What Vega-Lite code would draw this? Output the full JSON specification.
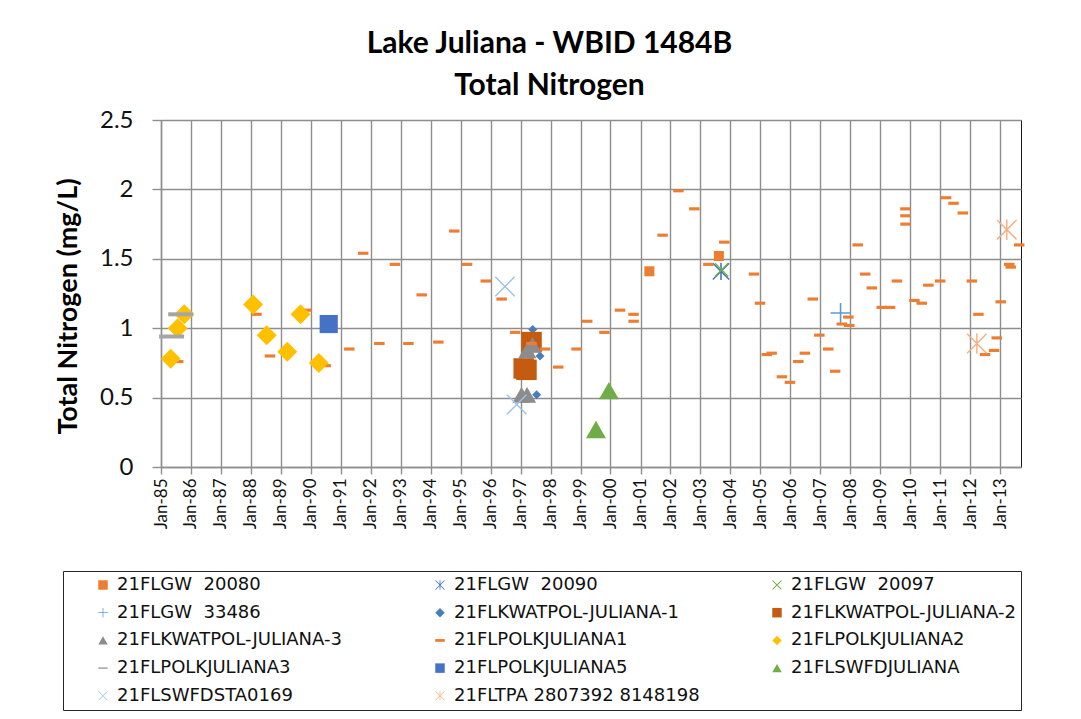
{
  "$schema": "https://vega.github.io/schema/vega-lite/v6.json",
  "width": 860,
  "height": 347,
  "autosize": {"type": "none"},
  "padding": {"left": 161, "top": 120, "right": 60, "bottom": 252},
  "background": "white",
  "title": {
    "text": ["Lake Juliana - WBID 1484B", "Total Nitrogen"],
    "font": "Lato",
    "fontSize": 30,
    "fontWeight": "bold",
    "color": "#000000",
    "anchor": "middle",
    "frame": "bounds",
    "lineHeight": 42,
    "offset": 7,
    "dx": 10
  },
  "data": {
    "values": [
      {"s": "21FLGW\u00a0 20080", "d": "2001-04-19", "v": 1.41},
      {"s": "21FLGW\u00a0 20080", "d": "2003-08-14", "v": 1.52},
      {"s": "21FLGW\u00a0 20090", "d": "2003-09-09", "v": 1.41},
      {"s": "21FLGW\u00a0 20097", "d": "2003-09-16", "v": 1.42},
      {"s": "21FLGW\u00a0 33486", "d": "2007-09-05", "v": 1.11},
      {"s": "21FLKWATPOL-JULIANA-1", "d": "1997-05-28", "v": 0.99},
      {"s": "21FLKWATPOL-JULIANA-1", "d": "1997-07-15", "v": 0.52},
      {"s": "21FLKWATPOL-JULIANA-1", "d": "1997-08-25", "v": 0.80},
      {"s": "21FLKWATPOL-JULIANA-2", "d": "1997-05-14", "v": 0.90},
      {"s": "21FLKWATPOL-JULIANA-2", "d": "1997-02-07", "v": 0.71},
      {"s": "21FLKWATPOL-JULIANA-2", "d": "1997-03-13", "v": 0.70},
      {"s": "21FLKWATPOL-JULIANA-3", "d": "1997-01-12", "v": 0.52},
      {"s": "21FLKWATPOL-JULIANA-3", "d": "1997-03-20", "v": 0.52},
      {"s": "21FLKWATPOL-JULIANA-3", "d": "1997-03-24", "v": 0.84},
      {"s": "21FLKWATPOL-JULIANA-3", "d": "1997-05-25", "v": 0.88},
      {"s": "21FLPOLKJULIANA1", "d": "1985-07-29", "v": 0.76},
      {"s": "21FLPOLKJULIANA1", "d": "1988-03-09", "v": 1.10},
      {"s": "21FLPOLKJULIANA1", "d": "1988-08-21", "v": 0.80},
      {"s": "21FLPOLKJULIANA1", "d": "1989-11-10", "v": 1.13},
      {"s": "21FLPOLKJULIANA1", "d": "1990-07-01", "v": 0.73},
      {"s": "21FLPOLKJULIANA1", "d": "1991-04-15", "v": 0.85},
      {"s": "21FLPOLKJULIANA1", "d": "1991-10-01", "v": 1.54},
      {"s": "21FLPOLKJULIANA1", "d": "1992-04-15", "v": 0.89},
      {"s": "21FLPOLKJULIANA1", "d": "1992-10-22", "v": 1.46},
      {"s": "21FLPOLKJULIANA1", "d": "1993-04-04", "v": 0.89},
      {"s": "21FLPOLKJULIANA1", "d": "1993-09-13", "v": 1.24},
      {"s": "21FLPOLKJULIANA1", "d": "1994-04-04", "v": 0.90},
      {"s": "21FLPOLKJULIANA1", "d": "1994-10-15", "v": 1.70},
      {"s": "21FLPOLKJULIANA1", "d": "1995-03-20", "v": 1.46},
      {"s": "21FLPOLKJULIANA1", "d": "1995-11-03", "v": 1.34},
      {"s": "21FLPOLKJULIANA1", "d": "1996-05-14", "v": 1.21},
      {"s": "21FLPOLKJULIANA1", "d": "1996-10-26", "v": 0.97},
      {"s": "21FLPOLKJULIANA1", "d": "1997-05-14", "v": 0.89},
      {"s": "21FLPOLKJULIANA1", "d": "1997-10-26", "v": 0.85},
      {"s": "21FLPOLKJULIANA1", "d": "1998-04-04", "v": 0.72},
      {"s": "21FLPOLKJULIANA1", "d": "1998-11-14", "v": 0.85},
      {"s": "21FLPOLKJULIANA1", "d": "1999-03-23", "v": 1.05},
      {"s": "21FLPOLKJULIANA1", "d": "1999-10-19", "v": 0.97},
      {"s": "21FLPOLKJULIANA1", "d": "2000-04-26", "v": 1.13},
      {"s": "21FLPOLKJULIANA1", "d": "2000-10-08", "v": 1.10},
      {"s": "21FLPOLKJULIANA1", "d": "2000-10-09", "v": 1.05},
      {"s": "21FLPOLKJULIANA1", "d": "2001-09-27", "v": 1.67},
      {"s": "21FLPOLKJULIANA1", "d": "2002-04-08", "v": 1.99},
      {"s": "21FLPOLKJULIANA1", "d": "2002-10-19", "v": 1.86},
      {"s": "21FLPOLKJULIANA1", "d": "2003-04-08", "v": 1.46},
      {"s": "21FLPOLKJULIANA1", "d": "2003-10-19", "v": 1.62},
      {"s": "21FLPOLKJULIANA1", "d": "2004-10-15", "v": 1.39},
      {"s": "21FLPOLKJULIANA1", "d": "2004-12-27", "v": 1.18},
      {"s": "21FLPOLKJULIANA1", "d": "2005-03-20", "v": 0.81},
      {"s": "21FLPOLKJULIANA1", "d": "2005-05-18", "v": 0.82},
      {"s": "21FLPOLKJULIANA1", "d": "2005-09-20", "v": 0.65},
      {"s": "21FLPOLKJULIANA1", "d": "2005-12-27", "v": 0.61},
      {"s": "21FLPOLKJULIANA1", "d": "2006-04-08", "v": 0.76},
      {"s": "21FLPOLKJULIANA1", "d": "2006-06-27", "v": 0.82},
      {"s": "21FLPOLKJULIANA1", "d": "2006-10-01", "v": 1.21},
      {"s": "21FLPOLKJULIANA1", "d": "2006-12-20", "v": 0.95},
      {"s": "21FLPOLKJULIANA1", "d": "2007-04-08", "v": 0.85},
      {"s": "21FLPOLKJULIANA1", "d": "2007-07-01", "v": 0.69},
      {"s": "21FLPOLKJULIANA1", "d": "2007-09-20", "v": 1.03},
      {"s": "21FLPOLKJULIANA1", "d": "2007-12-09", "v": 1.08},
      {"s": "21FLPOLKJULIANA1", "d": "2007-12-20", "v": 1.02},
      {"s": "21FLPOLKJULIANA1", "d": "2008-04-01", "v": 1.60},
      {"s": "21FLPOLKJULIANA1", "d": "2008-07-01", "v": 1.39},
      {"s": "21FLPOLKJULIANA1", "d": "2008-09-20", "v": 1.29},
      {"s": "21FLPOLKJULIANA1", "d": "2009-01-19", "v": 1.15},
      {"s": "21FLPOLKJULIANA1", "d": "2009-04-30", "v": 1.15},
      {"s": "21FLPOLKJULIANA1", "d": "2009-07-23", "v": 1.34},
      {"s": "21FLPOLKJULIANA1", "d": "2009-11-03", "v": 1.86},
      {"s": "21FLPOLKJULIANA1", "d": "2009-11-04", "v": 1.81},
      {"s": "21FLPOLKJULIANA1", "d": "2009-11-05", "v": 1.75},
      {"s": "21FLPOLKJULIANA1", "d": "2010-02-21", "v": 1.20},
      {"s": "21FLPOLKJULIANA1", "d": "2010-05-21", "v": 1.18},
      {"s": "21FLPOLKJULIANA1", "d": "2010-08-10", "v": 1.31},
      {"s": "21FLPOLKJULIANA1", "d": "2011-01-01", "v": 1.34},
      {"s": "21FLPOLKJULIANA1", "d": "2011-03-13", "v": 1.94},
      {"s": "21FLPOLKJULIANA1", "d": "2011-06-13", "v": 1.90},
      {"s": "21FLPOLKJULIANA1", "d": "2011-10-04", "v": 1.83},
      {"s": "21FLPOLKJULIANA1", "d": "2012-01-22", "v": 1.34},
      {"s": "21FLPOLKJULIANA1", "d": "2012-04-11", "v": 1.10},
      {"s": "21FLPOLKJULIANA1", "d": "2012-07-01", "v": 0.81},
      {"s": "21FLPOLKJULIANA1", "d": "2012-10-19", "v": 0.84},
      {"s": "21FLPOLKJULIANA1", "d": "2012-11-21", "v": 0.93},
      {"s": "21FLPOLKJULIANA1", "d": "2013-01-08", "v": 1.19},
      {"s": "21FLPOLKJULIANA1", "d": "2013-04-22", "v": 1.46},
      {"s": "21FLPOLKJULIANA1", "d": "2013-05-10", "v": 1.44},
      {"s": "21FLPOLKJULIANA1", "d": "2013-08-21", "v": 1.60},
      {"s": "21FLPOLKJULIANA2", "d": "1985-04-30", "v": 0.78},
      {"s": "21FLPOLKJULIANA2", "d": "1985-07-23", "v": 1.00},
      {"s": "21FLPOLKJULIANA2", "d": "1985-10-12", "v": 1.10},
      {"s": "21FLPOLKJULIANA2", "d": "1988-01-29", "v": 1.17},
      {"s": "21FLPOLKJULIANA2", "d": "1988-07-12", "v": 0.95},
      {"s": "21FLPOLKJULIANA2", "d": "1989-03-20", "v": 0.83},
      {"s": "21FLPOLKJULIANA2", "d": "1989-08-29", "v": 1.10},
      {"s": "21FLPOLKJULIANA2", "d": "1990-04-08", "v": 0.75},
      {"s": "21FLPOLKJULIANA3", "d": "1985-08-29", "v": 1.10},
      {"s": "21FLPOLKJULIANA3", "d": "1985-05-10", "v": 0.94},
      {"s": "21FLPOLKJULIANA5", "d": "1990-08-07", "v": 1.03},
      {"s": "21FLSWFDJULIANA", "d": "1999-07-08", "v": 0.27},
      {"s": "21FLSWFDJULIANA", "d": "1999-12-13", "v": 0.55},
      {"s": "21FLSWFDSTA0169", "d": "1996-06-24", "v": 1.30},
      {"s": "21FLSWFDSTA0169", "d": "1996-11-14", "v": 0.45},
      {"s": "21FLTPA 2807392 8148198", "d": "2012-03-23", "v": 0.89},
      {"s": "21FLTPA 2807392 8148198", "d": "2013-03-23", "v": 1.71}
    ]
  },
  "encoding": {
    "x": {
      "field": "d",
      "type": "temporal",
      "scale": {
        "type": "utc",
        "domain": [
          {"year": 1985, "month": 1, "date": 1, "utc": true},
          {"year": 2013, "month": 9, "date": 12, "utc": true}
        ]
      },
      "axis": {
        "title": null,
        "labelExpr": "utcFormat(datum.value, '%b-%y')",
        "tickCount": {"interval": "year", "step": 1},
        "labelAngle": -90,
        "labelFontSize": 17,
        "labelColor": "#111111",
        "labelPadding": 4,
        "labelOverlap": false,
        "labelFlush": false,
        "tickSize": 7
      }
    },
    "y": {
      "field": "v",
      "type": "quantitative",
      "scale": {"domain": [0, 2.5], "nice": false, "zero": true},
      "axis": {
        "title": "Total Nitrogen (mg/L)",
        "values": [0, 0.5, 1, 1.5, 2, 2.5],
        "format": "~g",
        "labelFontSize": 24,
        "labelColor": "#111111",
        "labelPadding": 19,
        "tickSize": 9,
        "titleFontSize": 27,
        "titleFontWeight": "bold",
        "titleColor": "#000000",
        "titlePadding": 17,
        "titleY": 186
      }
    },
    "color": {
      "field": "s",
      "type": "nominal",
      "scale": {
        "domain": ["21FLGW\u00a0 20080", "21FLGW\u00a0 20090", "21FLGW\u00a0 20097", "21FLGW\u00a0 33486", "21FLKWATPOL-JULIANA-1", "21FLKWATPOL-JULIANA-2", "21FLKWATPOL-JULIANA-3", "21FLPOLKJULIANA1", "21FLPOLKJULIANA2", "21FLPOLKJULIANA3", "21FLPOLKJULIANA5", "21FLSWFDJULIANA", "21FLSWFDSTA0169", "21FLTPA 2807392 8148198"],
        "range": ["#ED7D31", "#4472C4", "#70AD47", "#5B9BD5", "#4A7EBB", "#C55A11", "#8C8C8C", "#ED7D31", "#FFC000", "#A5A5A5", "#4472C4", "#70AD47", "#9DC3E6", "#F4B183"]
      },
      "legend": {"title": null}
    },
    "shape": {
      "field": "s",
      "type": "nominal",
      "scale": {
        "domain": ["21FLGW\u00a0 20080", "21FLGW\u00a0 20090", "21FLGW\u00a0 20097", "21FLGW\u00a0 33486", "21FLKWATPOL-JULIANA-1", "21FLKWATPOL-JULIANA-2", "21FLKWATPOL-JULIANA-3", "21FLPOLKJULIANA1", "21FLPOLKJULIANA2", "21FLPOLKJULIANA3", "21FLPOLKJULIANA5", "21FLSWFDJULIANA", "21FLSWFDSTA0169", "21FLTPA 2807392 8148198"],
        "range": [
          "square",
          "M-1,-0.88L-0.88,-1L1,0.88L0.88,1Z M0.88,-1L1,-0.88L-0.88,1L-1,0.88Z M-0.09,-1H0.09V1H-0.09Z",
          "M-1,-0.86L-0.86,-1L1,0.86L0.86,1Z M0.86,-1L1,-0.86L-0.86,1L-1,0.86Z",
          "M-1,-0.08H1V0.08H-1Z M-0.08,-1H0.08V1H-0.08Z",
          "diamond",
          "square",
          "triangle-up",
          "M-1,-0.3H1V0.3H-1Z",
          "diamond",
          "M-1,-0.16H1V0.16H-1Z",
          "square",
          "triangle-up",
          "M-1,-0.9L-0.9,-1L1,0.9L0.9,1Z M0.9,-1L1,-0.9L-0.9,1L-1,0.9Z",
          "M-1,-0.9L-0.9,-1L1,0.9L0.9,1Z M0.9,-1L1,-0.9L-0.9,1L-1,0.9Z M-0.07,-1H0.07V1H-0.07Z"
        ]
      },
      "legend": {"title": null}
    }
  },
  "layer": [
    {"transform": [{"filter": {"field": "s", "equal": "21FLGW\u00a0 20080"}}], "mark": {"type": "point", "filled": true, "opacity": 1, "size": 100}},
    {"transform": [{"filter": {"field": "s", "equal": "21FLGW\u00a0 20090"}}], "mark": {"type": "point", "filled": true, "opacity": 1, "size": 300}},
    {"transform": [{"filter": {"field": "s", "equal": "21FLGW\u00a0 20097"}}], "mark": {"type": "point", "filled": true, "opacity": 1, "size": 200}},
    {"transform": [{"filter": {"field": "s", "equal": "21FLGW\u00a0 33486"}}], "mark": {"type": "point", "filled": true, "opacity": 1, "size": 400}},
    {"transform": [{"filter": {"field": "s", "equal": "21FLKWATPOL-JULIANA-1"}}], "mark": {"type": "point", "filled": true, "opacity": 1, "size": 80}},
    {"transform": [{"filter": {"field": "s", "equal": "21FLKWATPOL-JULIANA-2"}}], "mark": {"type": "point", "filled": true, "opacity": 1, "size": 420}},
    {"transform": [{"filter": {"field": "s", "equal": "21FLKWATPOL-JULIANA-3"}}], "mark": {"type": "point", "filled": true, "opacity": 1, "size": 330}},
    {"transform": [{"filter": {"field": "s", "equal": "21FLPOLKJULIANA1"}}], "mark": {"type": "point", "filled": true, "opacity": 1, "size": 110}},
    {"transform": [{"filter": {"field": "s", "equal": "21FLPOLKJULIANA2"}}], "mark": {"type": "point", "filled": true, "opacity": 1, "size": 400}},
    {"transform": [{"filter": {"field": "s", "equal": "21FLPOLKJULIANA3"}}], "mark": {"type": "point", "filled": true, "opacity": 1, "size": 625}},
    {"transform": [{"filter": {"field": "s", "equal": "21FLPOLKJULIANA5"}}], "mark": {"type": "point", "filled": true, "opacity": 1, "size": 330}},
    {"transform": [{"filter": {"field": "s", "equal": "21FLSWFDJULIANA"}}], "mark": {"type": "point", "filled": true, "opacity": 1, "size": 400}},
    {"transform": [{"filter": {"field": "s", "equal": "21FLSWFDSTA0169"}}], "mark": {"type": "point", "filled": true, "opacity": 1, "size": 420}},
    {"transform": [{"filter": {"field": "s", "equal": "21FLTPA 2807392 8148198"}}], "mark": {"type": "point", "filled": true, "opacity": 1, "size": 420}}
  ],
  "config": {
    "font": "Lato",
    "view": {"stroke": "#1a1a1a", "strokeWidth": 1},
    "axis": {
      "gridColor": "#8e8e8e",
      "gridWidth": 1.4,
      "gridOpacity": 1,
      "domainColor": "#8e8e8e",
      "domainWidth": 1.4,
      "tickColor": "#8e8e8e",
      "tickWidth": 1.4
    },
    "legend": {
      "orient": "none",
      "legendX": -98,
      "legendY": 451,
      "columns": 3,
      "direction": "horizontal",
      "gridAlign": "all",
      "strokeColor": "#262626",
      "fillColor": "#ffffff",
      "padding": 5,
      "symbolSize": 90,
      "symbolOffset": 26,
      "symbolStrokeWidth": 0,
      "labelOffset": 5,
      "labelFont": "DejaVu Sans",
      "labelFontSize": 18,
      "labelColor": "#111111",
      "labelLimit": 400,
      "rowPadding": 9.7,
      "columnPadding": 42
    }
  }
}
